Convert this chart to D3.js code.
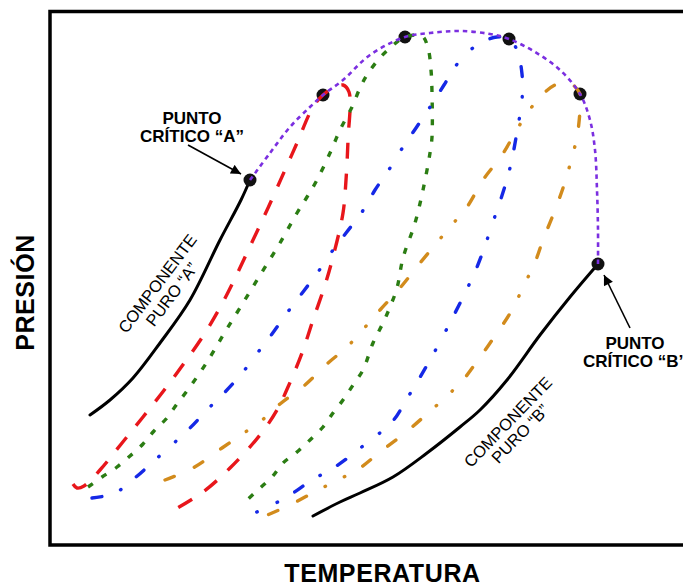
<!DOCTYPE html>
<html>
<head>
<meta charset="utf-8">
<script src="https://cdn.jsdelivr.net/npm/d3@7"></script>
<style>
  html, body { margin: 0; padding: 0; background: #fff; }
  svg { display: block; }
  text { font-family: "Liberation Sans", Arial, Helvetica, sans-serif; fill: #000; }
</style>
</head>
<body>
<div id="chart"></div>
<script>
// ---- Data (arbitrary temperature / pressure units) ----
const tempDomain = [0, 130];
const presDomain = [0, 107];
const frameTop = 106.7;      // top border of plot frame (pressure units)
const frameRight = 130;      // right border (off-page)

// Pure component vapour-pressure curves
const pureA = [[40,73],[38.2,69],[34,61],[28,49],[22,40.4],[16.6,33.4],[12,29],[8,26]];
const pureB = [[109.6,56.2],[104,49.6],[98,42],[91.4,33],[86,27],[82,23.6],[75.4,18.4],[68.6,13.6],[62,10.4],[58,8.6],[52.6,5.8]];

// Critical locus (dotted purple)
const critLocus = [[40,73],[44,78.4],[48,83.6],[52,87.6],[54.6,90],[58.6,93],[64,98],[71,101.6],[76,102.4],[82,102.8],[88,102.2],[91.8,101.2],[97,98.6],[102,95],[106,90.2],[108,85],[109,79],[109.4,71],[109.6,63],[109.6,56.2]];

// Critical points (black dots)
const criticalPoints = [[40,73],[54.6,90],[71,101.6],[91.8,101.2],[106,90.2],[109.6,56.2]];

// Mixture phase envelopes (bubble branch -> critical region -> dew branch)
const mixRed = [[4.6,12.2],[5.4,11.4],[6.8,11.8],[10,15],[14.4,20.4],[18.6,25.6],[23,31.2],[27,36.6],[31,42.4],[34.6,48.6],[37.6,54.6],[40.6,61],[43.6,67.4],[47,75],[49.4,80.4],[52.6,87.6],[54.6,90],[56.6,91.4],[58.6,92],[59.8,90.6],[59.6,81],[59.2,73],[58.6,66.4],[56.6,57.6],[55,52],[52.6,45],[50.4,38.4],[47.6,31.6],[45.4,27],[42,22],[36,15.4],[30.6,10.6],[23.4,6.2]];

const mixGreen = [[7.6,11.6],[10.4,13.6],[13.4,15.6],[16,17.8],[18.6,20.2],[20.8,22.8],[23.2,25.2],[25.4,28.2],[27.4,30.8],[31.4,36.6],[35,42.6],[38.6,48.4],[42.4,54.6],[46,60.4],[49.4,66.4],[51.4,69.6],[53.4,73],[56,78.4],[58,83],[60.4,87.6],[62,91.4],[63.4,94],[65.6,97],[68,99.4],[71,101.6],[74.4,101.8],[75.6,99.4],[76.2,95],[76.4,90.4],[76.4,81.6],[76,78.4],[74.6,71],[73,64.4],[70.6,57.4],[69.4,51.4],[68,47.6],[66.6,44.4],[64.6,40.4],[62.6,35],[60.6,32],[58.6,29],[56.6,26.4],[54.6,23.6],[52,21],[49.4,18.6],[46.6,16.4],[44.4,13.6],[42,11.4],[39.4,9]];

const mixBlue = [[8.4,9.4],[13,10.4],[17.2,13.6],[21,17],[24.8,20.4],[28,23.4],[31.6,27.2],[35.2,30.8],[38.6,34.6],[41.8,38.8],[44.4,42.2],[47.4,46.4],[50.6,50.6],[53.6,54.6],[56.6,59],[59.2,62.4],[62.4,66.6],[65,71],[68,75.4],[70.6,79.6],[73.2,83.4],[76,87.6],[78.8,92],[81.6,96.4],[85.4,100],[89.4,101.6],[91.8,101.2],[93.4,99],[94.4,94.2],[94.4,89],[93.6,83.8],[91.8,74.6],[88.6,64.6],[85.4,55.6],[81,46.4],[76,37],[71.6,29.6],[68.4,24.6],[63.6,20.6],[57,15.6],[52.4,13],[48,10],[43.6,7.6],[39,5.6]];

const mixOrange = [[23,13],[28.6,15.4],[34.4,19.4],[38.8,22.4],[42.2,24.8],[46,28.2],[51,32],[55.6,36.4],[59.6,39.8],[66,47],[70,51.4],[74,56.4],[80,63.6],[83.4,67.6],[86.6,73],[90.4,78],[93,82.4],[95.2,86],[98.4,90],[101,92],[103.6,92.6],[106,90.2],[106,87],[105.4,81.6],[104.4,77.6],[103,72.6],[101,67],[98.6,61],[96.8,56],[95,52.4],[92.4,47],[89.4,42.4],[85.6,37],[82.6,33],[79.6,30],[75.6,26.4],[71,22.4],[66,18.6],[62,15.4],[58.4,13.4],[53.6,11],[48,8],[42.6,5.6],[41.4,5]];

// Text labels
const xTitle = "TEMPERATURA";
const yTitle = "PRESIÓN";
const critLabelA = ["PUNTO", "CRÍTICO “A”"];
const critLabelB = ["PUNTO", "CRÍTICO “B”"];
const pureLabelA = ["COMPONENTE", "PURO “A”"];
const pureLabelB = ["COMPONENTE", "PURO “B”"];

// ---- Drawing ----
const W = 683, H = 586;
const svg = d3.select("#chart").append("svg").attr("width", W).attr("height", H);

const x = d3.scaleLinear().domain(tempDomain).range([50, 700]);
const y = d3.scaleLinear().domain(presDomain).range([545, 10]);

const line = d3.line().x(d => x(d[0])).y(d => y(d[1])).curve(d3.curveCatmullRom.alpha(0.5));

const defs = svg.append("defs");
defs.append("marker").attr("id", "arrow").attr("viewBox", "0 0 10 10")
  .attr("refX", 10).attr("refY", 5).attr("markerWidth", 12).attr("markerHeight", 10)
  .attr("markerUnits", "userSpaceOnUse").attr("orient", "auto")
  .append("path").attr("d", "M0,0 L10,5 L0,10 Z").attr("fill", "#000");

// frame
svg.append("rect")
  .attr("x", x(0)).attr("y", y(frameTop))
  .attr("width", x(frameRight) - x(0)).attr("height", y(0) - y(frameTop))
  .attr("fill", "none").attr("stroke", "#000").attr("stroke-width", 3.5);

// pure component curves
[pureA, pureB].forEach(d => {
  svg.append("path").attr("d", line(d)).attr("fill", "none")
    .attr("stroke", "#000").attr("stroke-width", 3).attr("stroke-linecap", "round");
});

// critical points
svg.selectAll("circle.crit").data(criticalPoints).enter().append("circle")
  .attr("class", "crit").attr("cx", d => x(d[0])).attr("cy", d => y(d[1]))
  .attr("r", 6.5).attr("fill", "#111");

// mixtures
const mixStyles = [
  { data: mixRed,    color: "#e8161b", dash: "16,15", cap: "butt" },
  { data: mixGreen,  color: "#2b7d13", dash: "6,10.5", cap: "butt" },
  { data: mixBlue,   color: "#1528e6", dash: "10,20,0.5,20,10,20,0.5,22,0.5,20", cap: "round" },
  { data: mixOrange, color: "#d28b1c", dash: "10,22,10,22,10,21,0.5,21,0.5,21", cap: "round" }
];
mixStyles.forEach(s => {
  svg.append("path").attr("d", line(s.data)).attr("fill", "none")
    .attr("stroke", s.color).attr("stroke-width", 3.4)
    .attr("stroke-dasharray", s.dash).attr("stroke-linecap", s.cap);
});

// critical locus
svg.append("path").attr("d", line(critLocus)).attr("fill", "none")
  .attr("stroke", "#7b2fe0").attr("stroke-width", 2.6).attr("stroke-dasharray", "4.5,4");

// arrows
svg.append("line").attr("x1", 188).attr("y1", 145).attr("x2", x(criticalPoints[0][0]) - 9).attr("y2", y(criticalPoints[0][1]) - 6)
  .attr("stroke", "#000").attr("stroke-width", 1.6).attr("marker-end", "url(#arrow)");
svg.append("line").attr("x1", 630).attr("y1", 328).attr("x2", x(criticalPoints[5][0]) + 6).attr("y2", y(criticalPoints[5][1]) + 11)
  .attr("stroke", "#000").attr("stroke-width", 1.6).attr("marker-end", "url(#arrow)");

// critical point labels
function block(lines, cx, by, dy) {
  const t = svg.append("text").attr("text-anchor", "middle")
    .attr("font-size", 17).attr("font-weight", "bold");
  lines.forEach((s, i) => t.append("tspan").attr("x", cx).attr("y", by + i * dy).text(s));
}
block(critLabelA, 192, 124, 18);
block(critLabelB, 635, 348.5, 18);

// pure component labels (rotated)
function rotBlock(lines, cx, cy, ang, dy) {
  const g = svg.append("g").attr("transform", `translate(${cx},${cy}) rotate(${ang})`);
  const t = g.append("text").attr("text-anchor", "middle").attr("font-size", 16.5);
  lines.forEach((s, i) => t.append("tspan").attr("x", 0).attr("y", i * dy).text(s));
}
rotBlock(pureLabelA, 162, 287, -53, 18);
rotBlock(pureLabelB, 512, 426, -46, 17);

// axis titles
svg.append("text").attr("x", 382.5).attr("y", 582).attr("text-anchor", "middle")
  .attr("font-size", 25).attr("font-weight", "bold").attr("letter-spacing", 0.6).text(xTitle);
svg.append("text").attr("transform", "translate(34,292.5) rotate(-90)")
  .attr("text-anchor", "middle").attr("font-size", 25).attr("font-weight", "bold")
  .attr("letter-spacing", 0.6).text(yTitle);
</script>
</body>
</html>
